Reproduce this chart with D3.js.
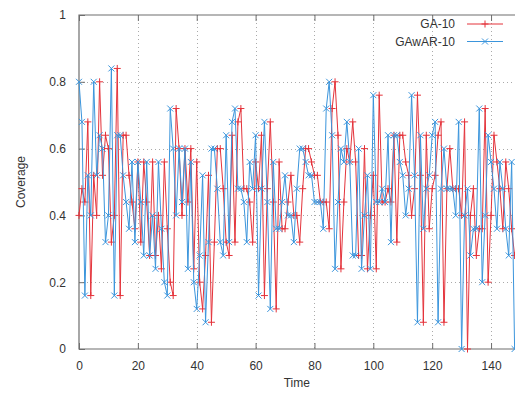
<!DOCTYPE html>
<html>
<head>
<meta charset="utf-8">
<script src="https://cdn.jsdelivr.net/npm/d3@7"></script>
<style>
  body { margin: 0; background: #fff; }
  svg { display: block; font-family: "Liberation Sans", Arial, sans-serif; }
</style>
</head>
<body>
<div id="chart"></div>
<script>
// coverage per time step (index = time)
const seriesNames = ["GA-10", "GAwAR-10"];
const ga10 = [
  0.40, 0.48, 0.44, 0.68, 0.16, 0.52, 0.40, 0.80, 0.52, 0.64,
  0.60, 0.32, 0.40, 0.84, 0.16, 0.64, 0.64, 0.52, 0.44, 0.36,
  0.56, 0.32, 0.56, 0.44, 0.28, 0.56, 0.28, 0.40, 0.24, 0.56,
  0.36, 0.20, 0.16, 0.72, 0.60, 0.40, 0.60, 0.44, 0.60, 0.24,
  0.56, 0.20, 0.12, 0.28, 0.52, 0.08, 0.32, 0.60, 0.60, 0.48,
  0.32, 0.28, 0.64, 0.32, 0.68, 0.72, 0.48, 0.48, 0.44, 0.32,
  0.56, 0.48, 0.64, 0.16, 0.48, 0.68, 0.44, 0.12, 0.56, 0.36,
  0.36, 0.44, 0.52, 0.40, 0.40, 0.32, 0.48, 0.60, 0.60, 0.56,
  0.52, 0.52, 0.44, 0.44, 0.44, 0.36, 0.72, 0.80, 0.64, 0.24,
  0.44, 0.60, 0.56, 0.68, 0.56, 0.28, 0.28, 0.60, 0.24, 0.40,
  0.52, 0.24, 0.76, 0.44, 0.44, 0.48, 0.44, 0.64, 0.32, 0.64,
  0.64, 0.56, 0.52, 0.40, 0.48, 0.76, 0.52, 0.08, 0.64, 0.36,
  0.48, 0.52, 0.64, 0.68, 0.08, 0.48, 0.60, 0.48, 0.48, 0.48,
  0.40, 0.68, 0.00, 0.40, 0.48, 0.28, 0.36, 0.36, 0.72, 0.20,
  0.40, 0.64, 0.56, 0.48, 0.36, 0.56, 0.48, 0.36, 0.28
];
const gawar10 = [
  0.80, 0.68, 0.16, 0.52, 0.40, 0.80, 0.52, 0.64, 0.60, 0.32,
  0.40, 0.84, 0.16, 0.64, 0.64, 0.52, 0.44, 0.36, 0.56, 0.32,
  0.56, 0.44, 0.28, 0.56, 0.28, 0.40, 0.24, 0.56, 0.36, 0.20,
  0.16, 0.72, 0.60, 0.40, 0.60, 0.44, 0.60, 0.24, 0.56, 0.20,
  0.12, 0.28, 0.52, 0.08, 0.32, 0.60, 0.60, 0.48, 0.32, 0.28,
  0.64, 0.32, 0.68, 0.72, 0.48, 0.48, 0.44, 0.32, 0.56, 0.48,
  0.64, 0.16, 0.48, 0.68, 0.44, 0.12, 0.56, 0.36, 0.36, 0.44,
  0.52, 0.40, 0.40, 0.32, 0.48, 0.60, 0.60, 0.56, 0.52, 0.52,
  0.44, 0.44, 0.44, 0.36, 0.72, 0.80, 0.64, 0.24, 0.44, 0.60,
  0.56, 0.68, 0.56, 0.28, 0.28, 0.60, 0.24, 0.40, 0.52, 0.24,
  0.76, 0.44, 0.44, 0.48, 0.44, 0.64, 0.32, 0.64, 0.64, 0.56,
  0.52, 0.40, 0.48, 0.76, 0.52, 0.08, 0.64, 0.36, 0.48, 0.52,
  0.64, 0.68, 0.08, 0.48, 0.60, 0.48, 0.48, 0.48, 0.40, 0.68,
  0.00, 0.40, 0.48, 0.28, 0.36, 0.36, 0.72, 0.20, 0.40, 0.64,
  0.56, 0.48, 0.36, 0.56, 0.48, 0.36, 0.28, 0.56, 0.00
];
const xTicks = [0, 20, 40, 60, 80, 100, 120, 140];
const yTicks = [0, 0.2, 0.4, 0.6, 0.8, 1];
const yTickLabels = ["0", "0.2", "0.4", "0.6", "0.8", "1"];

const width = 515, height = 395;
const colors = ["#e4333b", "#3b95dc"];
const textColor = "#333";
const borderColor = "#6e6e6e";

const x = d3.scaleLinear().domain([0, 148]).range([79, 514.6]);
const y = d3.scaleLinear().domain([0, 1]).range([349, 15]);

const svg = d3.select("#chart").append("svg")
  .attr("width", width)
  .attr("height", height)
  .attr("viewBox", [0, 0, width, height]);

// dotted grid
const grid = svg.append("g")
  .attr("stroke", "#aaa")
  .attr("stroke-width", 1)
  .attr("stroke-dasharray", "1,3");
grid.selectAll("line.gx")
  .data(xTicks.filter(d => d > 0))
  .join("line")
    .attr("x1", d => Math.round(x(d)) + 0.5)
    .attr("x2", d => Math.round(x(d)) + 0.5)
    .attr("y1", y(1))
    .attr("y2", y(0));
grid.selectAll("line.gy")
  .data(yTicks.filter(d => d > 0 && d < 1))
  .join("line")
    .attr("x1", x(0))
    .attr("x2", x.range()[1])
    .attr("y1", d => Math.round(y(d)) + 0.5)
    .attr("y2", d => Math.round(y(d)) + 0.5);

// axes (ticks point inward, gnuplot style)
const xAxis = svg.append("g")
  .attr("transform", `translate(0,${y(0)})`)
  .call(d3.axisBottom(x).tickValues(xTicks).tickSize(-6).tickPadding(12));
const xAxisTop = svg.append("g")
  .attr("transform", `translate(0,${y(1)})`)
  .call(d3.axisTop(x).tickValues(xTicks).tickSize(-6).tickFormat(""));
const yAxis = svg.append("g")
  .attr("transform", `translate(${x(0)},0)`)
  .call(d3.axisLeft(y).tickValues(yTicks).tickFormat((d, i) => yTickLabels[i]).tickSize(-6).tickPadding(13));

[xAxis, xAxisTop, yAxis].forEach(g => {
  g.select(".domain").remove();
  g.selectAll(".tick line").attr("stroke", borderColor);
  g.selectAll("text")
    .attr("fill", textColor)
    .attr("font-size", "12px")
    .attr("font-family", "Liberation Sans, Arial, sans-serif");
});

// border
svg.append("path")
  .attr("fill", "none")
  .attr("stroke", borderColor)
  .attr("stroke-width", 1.2)
  .attr("d", `M${x.range()[1] + 2},${y(1)}H${x(0)}V${y(0)}H${x.range()[1] + 2}`);

// axis titles
svg.append("text")
  .attr("x", (x(0) + x.range()[1]) / 2)
  .attr("y", 387)
  .attr("text-anchor", "middle")
  .attr("font-size", "12px")
  .attr("fill", textColor)
  .text("Time");
svg.append("text")
  .attr("transform", `translate(25,${(y(0) + y(1)) / 2}) rotate(-90)`)
  .attr("text-anchor", "middle")
  .attr("font-size", "12px")
  .attr("fill", textColor)
  .text("Coverage");

const plus = s => `M${-s},0H${s}M0,${-s}V${s}`;
const cross = s => `M${-s},${-s}L${s},${s}M${-s},${s}L${s},${-s}`;
const markers = [plus(3.5), cross(3)];

const line = d3.line()
  .x((d, i) => x(i))
  .y(d => y(d));

[ga10, gawar10].forEach((values, k) => {
  const g = svg.append("g");
  g.append("path")
    .datum(values)
    .attr("fill", "none")
    .attr("stroke", colors[k])
    .attr("stroke-width", 1)
    .attr("d", line);
  g.selectAll("path.pt")
    .data(values)
    .join("path")
      .attr("class", "pt")
      .attr("transform", (d, i) => `translate(${x(i)},${y(d)})`)
      .attr("d", markers[k])
      .attr("fill", "none")
      .attr("stroke", colors[k])
      .attr("stroke-width", 1);
});

// legend
const legend = svg.append("g")
  .selectAll("g")
  .data(seriesNames)
  .join("g")
    .attr("transform", (d, i) => `translate(0,${24 + i * 17.5})`);
legend.append("text")
  .attr("x", 455)
  .attr("y", 0)
  .attr("dy", "0.35em")
  .attr("text-anchor", "end")
  .attr("font-size", "12px")
  .attr("fill", textColor)
  .text(d => d);
legend.append("line")
  .attr("x1", 467)
  .attr("x2", 503)
  .attr("stroke", (d, i) => colors[i])
  .attr("stroke-width", 1);
legend.append("path")
  .attr("transform", "translate(485,0)")
  .attr("d", (d, i) => markers[i])
  .attr("fill", "none")
  .attr("stroke", (d, i) => colors[i]);
</script>
</body>
</html>
